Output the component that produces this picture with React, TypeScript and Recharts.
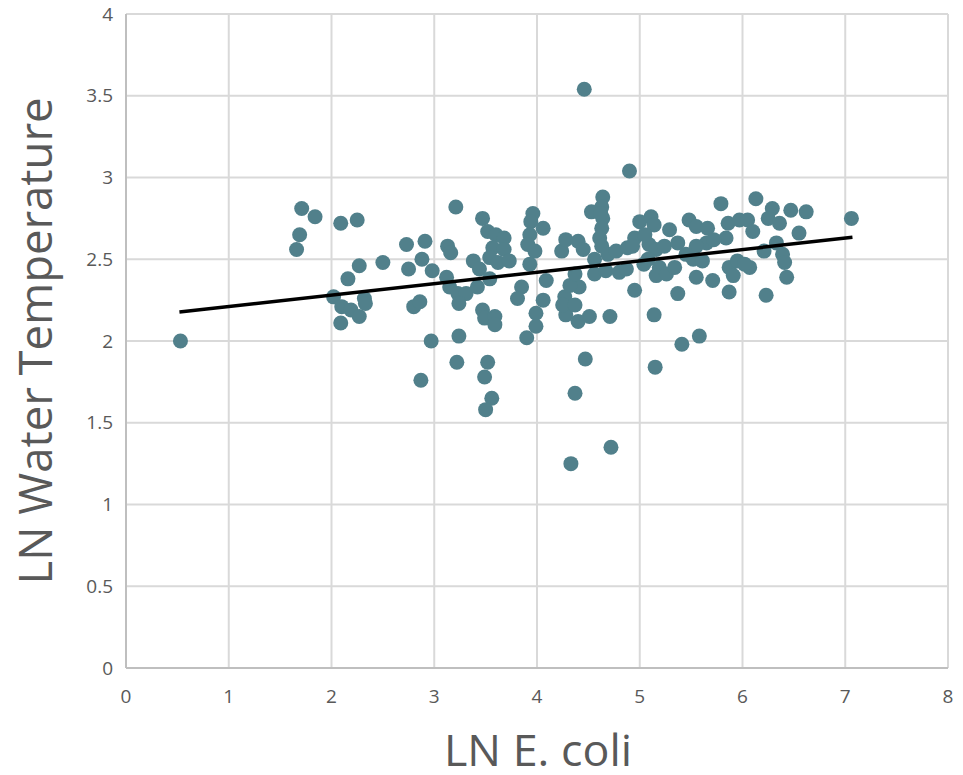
import React from "react";
import {
  ScatterChart,
  Scatter,
  XAxis,
  YAxis,
  CartesianGrid,
  Label,
} from "recharts";

const lnEcoli: number[] = [
  0.53, 1.66, 1.69, 1.71, 1.84, 2.09, 2.25, 2.73, 2.91, 2.88,
  2.98, 2.75, 2.5, 2.27, 2.16, 2.02, 2.32, 2.33, 2.1, 2.19,
  2.27, 2.09, 2.8, 2.86, 2.97, 2.87, 3.22, 3.52, 3.49, 3.56,
  3.5, 4.47, 5.15, 4.37, 4.72, 4.33, 4.46, 4.9, 5.58, 5.41,
  3.21, 3.47, 3.52, 3.6, 3.68, 3.13, 3.16, 3.38, 3.44, 3.57,
  3.68, 3.54, 3.62, 3.73, 3.12, 3.15, 3.23, 3.31, 3.42, 3.54,
  3.24, 3.47, 3.49, 3.59, 3.59, 3.24, 3.96, 3.94, 4.06, 3.93,
  3.91, 3.98, 3.93, 3.85, 3.81, 4.09, 4.06, 3.99, 3.99, 3.9,
  4.24, 4.28, 4.27, 4.28, 4.25, 4.64, 4.63, 4.53, 4.64, 4.63,
  4.61, 4.63, 4.4, 4.45, 4.56, 4.56, 4.69, 4.77, 4.67, 4.8,
  4.87, 4.88, 4.95, 5.0, 5.11, 5.14, 5.29, 5.09, 5.16, 5.24,
  5.37, 5.19, 5.16, 5.26, 5.34, 5.52, 5.48, 5.55, 5.37, 5.14,
  4.95, 4.71, 4.51, 4.4, 4.41, 4.32, 4.37, 4.37, 5.79, 6.13,
  6.29, 6.47, 6.62, 6.25, 6.36, 6.55, 7.06, 5.66, 5.86, 5.97,
  6.05, 6.1, 5.84, 5.65, 5.55, 6.21, 6.33, 6.39, 6.41, 6.43,
  6.23, 5.87, 5.71, 5.55, 5.87, 5.95, 6.07, 5.91, 5.61, 5.04,
  5.08, 5.45, 5.72, 4.93, 5.05, 6.02, 4.62,
];

const lnWaterTemp: number[] = [
  2.0, 2.56, 2.65, 2.81, 2.76, 2.72, 2.74, 2.59, 2.61, 2.5,
  2.43, 2.44, 2.48, 2.46, 2.38, 2.27, 2.26, 2.23, 2.21, 2.19,
  2.15, 2.11, 2.21, 2.24, 2.0, 1.76, 1.87, 1.87, 1.78, 1.65,
  1.58, 1.89, 1.84, 1.68, 1.35, 1.25, 3.54, 3.04, 2.03, 1.98,
  2.82, 2.75, 2.67, 2.65, 2.63, 2.58, 2.54, 2.49, 2.44, 2.57,
  2.56, 2.51, 2.48, 2.49, 2.39, 2.33, 2.29, 2.29, 2.33, 2.38,
  2.23, 2.19, 2.14, 2.15, 2.1, 2.03, 2.78, 2.73, 2.69, 2.65,
  2.59, 2.55, 2.47, 2.33, 2.26, 2.37, 2.25, 2.17, 2.09, 2.02,
  2.55, 2.62, 2.27, 2.16, 2.22, 2.88, 2.82, 2.79, 2.75, 2.69,
  2.63, 2.58, 2.61, 2.56, 2.5, 2.41, 2.53, 2.55, 2.43, 2.42,
  2.44, 2.57, 2.63, 2.73, 2.76, 2.71, 2.68, 2.59, 2.56, 2.58,
  2.6, 2.45, 2.4, 2.41, 2.45, 2.5, 2.74, 2.7, 2.29, 2.16,
  2.31, 2.15, 2.15, 2.12, 2.33, 2.34, 2.22, 2.41, 2.84, 2.87,
  2.81, 2.8, 2.79, 2.75, 2.72, 2.66, 2.75, 2.69, 2.72, 2.74,
  2.74, 2.67, 2.63, 2.6, 2.58, 2.55, 2.6, 2.53, 2.48, 2.39,
  2.28, 2.3, 2.37, 2.39, 2.45, 2.49, 2.45, 2.4, 2.49, 2.47,
  2.5, 2.53, 2.62, 2.58, 2.65, 2.47, 2.78,
];

const trendX: number[] = [0.52, 7.07];
const trendY: number[] = [2.178, 2.634];

const xTicks: number[] = [0, 1, 2, 3, 4, 5, 6, 7, 8];
const yTicks: number[] = [0, 0.5, 1, 1.5, 2, 2.5, 3, 3.5, 4];

const points = lnEcoli.map((x, i) => ({ x, y: lnWaterTemp[i] }));
const trend = trendX.map((x, i) => ({ x, y: trendY[i] }));

const FONT = "'Open Sans', 'Noto Sans', sans-serif";
const TEXT = "#595959";

const YTitle = (props: any) => {
  const vb = props.viewBox || {};
  const cy = vb.y + vb.height / 2;
  const x = 52;
  return (
    <text
      x={x}
      y={cy}
      transform={`rotate(-90 ${x} ${cy})`}
      textAnchor="middle"
      fill={TEXT}
      fontFamily={FONT}
      fontSize={45}
      textLength={487}
      lengthAdjust="spacingAndGlyphs"
    >
      LN Water Temperature
    </text>
  );
};

const XTitle = (props: any) => {
  const vb = props.viewBox || {};
  const cx = vb.x + vb.width / 2 + 1;
  return (
    <text
      x={cx}
      y={766}
      textAnchor="middle"
      fill={TEXT}
      fontFamily={FONT}
      fontSize={44}
      textLength={188}
      lengthAdjust="spacingAndGlyphs"
    >
      LN E. coli
    </text>
  );
};

export default function App() {
  return (
    <div style={{ position: "absolute", left: 0, top: 0, width: 963, height: 775, background: "#fff" }}>
      <ScatterChart
        width={963}
        height={775}
        margin={{ top: 14, right: 15, bottom: 0, left: 0 }}
      >
        <CartesianGrid stroke="#d9d9d9" strokeWidth={2} />
        <XAxis
          type="number"
          dataKey="x"
          domain={[0, 8]}
          ticks={xTicks}
          allowDataOverflow
          height={107}
          tickLine={false}
          tickSize={0}
          tickMargin={22}
          axisLine={{ stroke: "#bfbfbf", strokeWidth: 2 }}
          tick={{ fill: TEXT, fontSize: 19, fontFamily: FONT }}
        >
          <Label content={<XTitle />} />
        </XAxis>
        <YAxis
          type="number"
          dataKey="y"
          domain={[0, 4]}
          ticks={yTicks}
          allowDataOverflow
          width={126}
          tickLine={false}
          tickSize={0}
          tickMargin={13}
          axisLine={{ stroke: "#bfbfbf", strokeWidth: 2 }}
          tick={{ fill: TEXT, fontSize: 19, fontFamily: FONT }}
        >
          <Label content={<YTitle />} />
        </YAxis>
        <Scatter
          data={points}
          fill="#51808b"
          isAnimationActive={false}
          shape={(p: any) => <circle cx={p.cx} cy={p.cy} r={7.5} fill="#51808b" />}
        />
        <Scatter
          data={trend}
          line={{ stroke: "#000", strokeWidth: 3.5 }}
          shape={() => <g />}
          isAnimationActive={false}
        />
      </ScatterChart>
    </div>
  );
}
